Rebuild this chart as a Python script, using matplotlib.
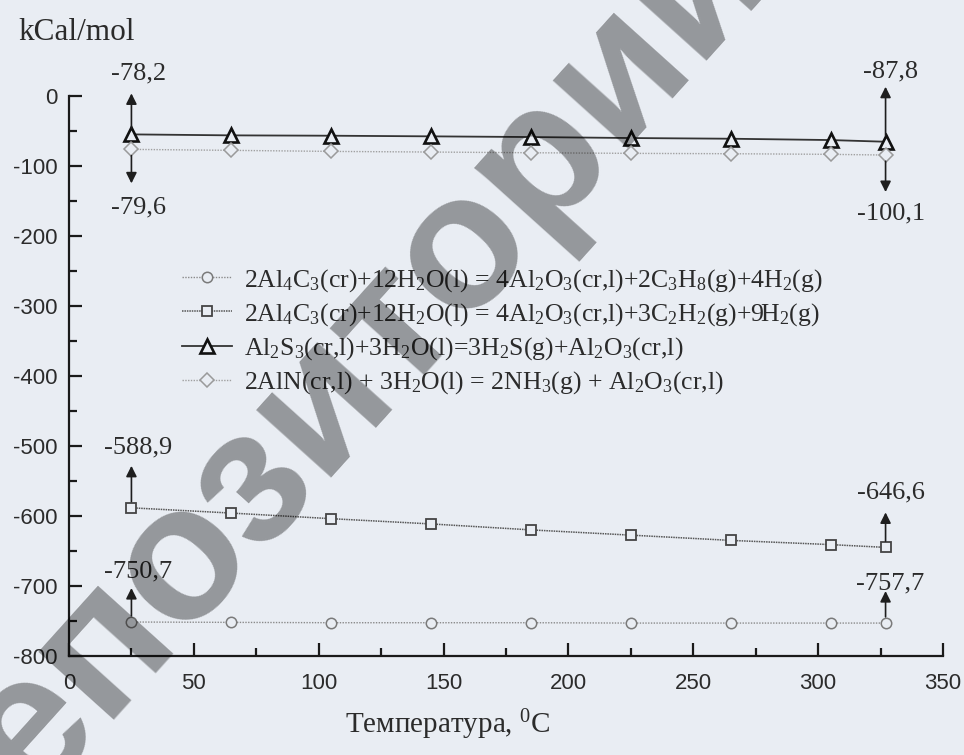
import matplotlib
matplotlib.use("Agg")
import matplotlib.pyplot as plt
from matplotlib.ticker import MultipleLocator

# temperatures, deg C
temps = [25, 65, 105, 145, 185, 225, 265, 305, 327]

# Gibbs energy, kCal/mol
al4c3_propane = [-751.5, -752, -752.5, -752.5, -752.5, -753, -753, -753, -753]
al4c3_acetylene = [-588.5, -596, -604, -611.5, -620, -627.5, -635, -641, -645]
al2s3 = [-55.5, -56.9, -57.4, -58.3, -59.3, -60.7, -61.7, -63.6, -66.0]
aln = [-76.9, -78.3, -79.8, -80.7, -81.7, -82.6, -83.1, -84.0, -85.0]

labels = [
    "2Al$_4$C$_3$(cr)+12H$_2$O(l) = 4Al$_2$O$_3$(cr,l)+2C$_3$H$_8$(g)+4H$_2$(g)",
    "2Al$_4$C$_3$(cr)+12H$_2$O(l) = 4Al$_2$O$_3$(cr,l)+3C$_2$H$_2$(g)+9H$_2$(g)",
    "Al$_2$S$_3$(cr,l)+3H$_2$O(l)=3H$_2$S(g)+Al$_2$O$_3$(cr,l)",
    "2AlN(cr,l) + 3H$_2$O(l) = 2NH$_3$(g) + Al$_2$O$_3$(cr,l)",
]

# end-point labels: (series, index, text, arrow up?)
end_labels = [
    ("al2s3", 0, "-78,2", True),
    ("aln", 0, "-79,6", False),
    ("al2s3", -1, "-87,8", True),
    ("aln", -1, "-100,1", False),
    ("al4c3_acetylene", 0, "-588,9", True),
    ("al4c3_acetylene", -1, "-646,6", True),
    ("al4c3_propane", 0, "-750,7", True),
    ("al4c3_propane", -1, "-757,7", True),
]

BG = "#e9edf3"
INK = "#2b2b2b"

plt.rcParams["font.family"] = ["Liberation Serif", "DejaVu Serif"]
plt.rcParams["mathtext.fontset"] = "custom"
plt.rcParams["mathtext.rm"] = "Liberation Serif"
plt.rcParams["mathtext.it"] = "Liberation Serif:italic"
plt.rcParams["mathtext.bf"] = "Liberation Serif:bold"
plt.rcParams["axes.unicode_minus"] = False


def main():
    fig = plt.figure(figsize=(9.64, 7.55), dpi=100, facecolor=BG)
    W, H = 964, 755
    x0, x1, ytop, ybot = 69, 943, 95.5, 656
    ax = fig.add_axes([x0 / W, 1 - ybot / H, (x1 - x0) / W, (ybot - ytop) / H])
    ax.set_facecolor(BG)

    series = {
        "al4c3_propane": al4c3_propane,
        "al4c3_acetylene": al4c3_acetylene,
        "al2s3": al2s3,
        "aln": aln,
    }
    styles = [
        ("al4c3_propane", dict(color="#8a8a8a", ls=(0, (1, 1)), lw=1.0, marker="o", ms=7.5,
                               mfc=BG, mec="#7a7a7a", mew=1.1)),
        ("al4c3_acetylene", dict(color="#555555", ls=(0, (1, 0.6)), lw=1.1, marker="s", ms=7,
                                 mfc=BG, mec="#444444", mew=1.3)),
        ("al2s3", dict(color="#333333", ls="-", lw=1.3, marker="^", ms=10,
                       mfc=BG, mec="#111111", mew=1.9)),
        ("aln", dict(color="#a0a0a0", ls=(0, (1, 1)), lw=1.0, marker="D", ms=7.5,
                     mfc=BG, mec="#9a9a9a", mew=1.1)),
    ]
    for (key, st), lab in zip(styles, labels):
        ax.plot(temps, series[key], label=lab, zorder=3, **st)

    # arrows with values at the end points
    for key, i, txt, up in end_labels:
        x, y = temps[i], series[key][i]
        sgn = 1 if up else -1
        if key == "al2s3":
            tip, toff = (41, 61) if i == 0 else (55, 70)
        elif key == "aln":
            tip, toff = (34, 58) if i == 0 else (37, 58)
        elif key == "al4c3_acetylene":
            tip, toff = (42, 60) if i == 0 else (35, 55)
        else:
            tip, toff = (34, 51) if i == 0 else (32, 40)
        dx = 7 if i == 0 else 5
        ax.annotate("", xy=(x, y), xytext=(0, sgn * tip), textcoords="offset pixels",
                    arrowprops=dict(arrowstyle="<|-", color="#1e1e1e", lw=1.2,
                                    mutation_scale=16, shrinkA=0, shrinkB=4.5),
                    zorder=4)
        ax.annotate(txt, xy=(x, y), xytext=(dx, sgn * toff), textcoords="offset pixels",
                    ha="center", va="center", fontsize=19, color=INK, zorder=4)

    ax.set_xlim(0, 350)
    ax.set_ylim(-800, 0)
    ax.xaxis.set_major_locator(MultipleLocator(50))
    ax.xaxis.set_minor_locator(MultipleLocator(25))
    ax.yaxis.set_major_locator(MultipleLocator(100))
    ax.yaxis.set_minor_locator(MultipleLocator(50))
    for s in ["top", "right"]:
        ax.spines[s].set_visible(False)
    for s in ["left", "bottom"]:
        ax.spines[s].set_linewidth(1.6)
        ax.spines[s].set_color("#1a1a1a")
    ax.tick_params(which="both", direction="in", color="#1a1a1a", width=1.6,
                   labelfontfamily="Liberation Sans", labelsize=16, labelcolor=INK)
    ax.tick_params(which="major", length=9.5)
    ax.tick_params(which="minor", length=5.5)
    ax.tick_params(axis="x", pad=12)
    ax.tick_params(axis="y", pad=8)

    fig.text(18 / W, 1 - 32 / H, "kCal/mol", fontsize=22.5, color=INK, ha="left", va="center")
    fig.text(448 / W, 1 - 725 / H, "Температура, $^0$C", fontsize=21, color=INK,
             ha="center", va="center")

    leg = ax.legend(loc="upper left", bbox_to_anchor=(182 / W, 1 - 267 / H),
                    bbox_transform=fig.transFigure, frameon=False, fontsize=18.5,
                    handlelength=1.95, handletextpad=0.47, labelspacing=0.28,
                    borderpad=0, borderaxespad=0)
    for t in leg.get_texts():
        t.set_color(INK)

    # repository watermark
    fig.text(365 / W, 1 - 355 / H, "епозиторий", rotation=48, rotation_mode="anchor",
             fontsize=138, family="Liberation Sans", weight="bold", color="black",
             alpha=0.36, ha="center", va="center", zorder=10)

    fig.savefig("out.png", dpi=100, facecolor=BG)


if __name__ == "__main__":
    main()
